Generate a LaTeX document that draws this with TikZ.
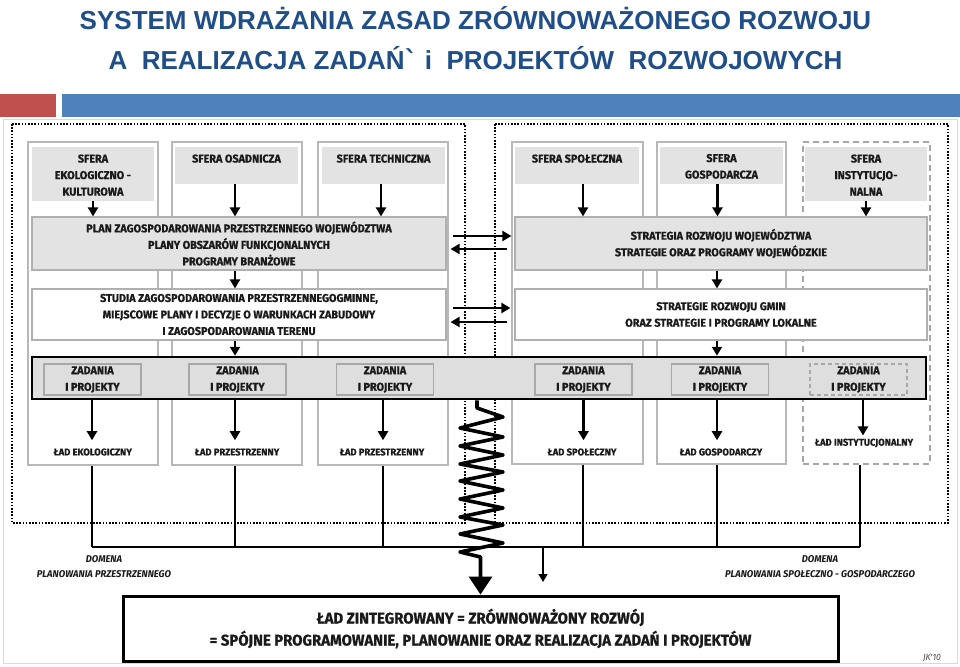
\documentclass[tikz,border=0pt]{standalone}
\usepackage{fontspec}
\usetikzlibrary{arrows.meta,calc}
\setmainfont{Liberation Sans}
\newfontfamily\tfont{Liberation Sans}
\newfontfamily\gravefont{DejaVu Sans}
\newfontfamily\dfont{Fira Sans}[FakeStretch=0.96,BoldFeatures={FakeBold=0.7}]
\definecolor{titleblue}{HTML}{1F4E89}
\definecolor{barred}{HTML}{C0504D}
\definecolor{barblue}{HTML}{4F81BD}
\definecolor{colgray}{HTML}{B8B8B8}
\definecolor{sphgray}{HTML}{E3E3E3}
\definecolor{bordgray}{HTML}{B0B0B0}
\definecolor{zadgray}{HTML}{DEDEDE}
\definecolor{zadborder}{HTML}{A8A8A8}
\definecolor{framegray}{HTML}{DADADA}
\definecolor{inkc}{HTML}{1A1A1A}
\newcommand\dtxt{\dfont\bfseries\fontsize{11.3}{16.5}\selectfont}
\newcommand\ltxt{\dfont\bfseries\fontsize{9.8}{11}\selectfont}
\begin{document}
\begin{tikzpicture}[x=1pt,y=-1pt,
  colbox/.style={draw=colgray,line width=1.3pt,fill=white,inner sep=0pt},
  sphbox/.style={fill=sphgray,draw=none,inner sep=0pt},
  sphtext/.style={anchor=north,inner sep=0pt,align=center,font=\dtxt,text=inkc},
  graybox/.style={fill=sphgray,draw=bordgray,line width=1.2pt,inner sep=0pt,align=center,font=\dtxt,text=inkc},
  whitebox/.style={fill=white,draw=bordgray,line width=1.2pt,inner sep=0pt,align=center,font=\dtxt,text=inkc},
  zadbox/.style={fill=zadgray,draw=zadborder,line width=1.2pt,inner sep=0pt,align=center,font=\dtxt,text=inkc,minimum width=97pt,minimum height=31pt},
  ladtext/.style={inner sep=0pt,font=\ltxt,text=inkc},
  domtext/.style={inner sep=0pt,align=center,font={\dfont\bfseries\itshape\fontsize{9.8}{15}\selectfont},text=inkc},
  arr/.style={draw=black,line width=2.2pt,-{Triangle[length=9pt,width=10pt]}},
  ln/.style={draw=black,line width=1.9pt},
  mydots/.style={draw=black,line width=1.9pt,dash pattern=on 1.6pt off 1.6pt},
  title/.style={inner sep=0pt,anchor=base,font={\tfont\bfseries\fontsize{26}{30}\selectfont},text=titleblue}
]
\useasboundingbox (0,0) rectangle (960,666);
\fill[white] (0,0) rectangle (960,666);
% title
\node[title] (t1) at (475.5,30) {SYSTEM WDRAŻANIA ZASAD ZRÓWNOWAŻONEGO ROZWOJU};
\node[title] (t2) at (475.5,70) {A\ \ REALIZACJA ZADAŃ{\gravefont\bfseries ˋ} i\ \ PROJEKTÓW\ \ ROZWOJOWYCH};
\fill[barred] (0,94) rectangle (56,117);
\fill[barblue] (62,94) rectangle (960,117);
% frame
\draw[framegray,line width=0.8pt] (3,119) rectangle (957,663);
% dotted domains
\draw[mydots] (12,124) rectangle (465,523);
\draw[mydots] (495,124) rectangle (948,523);
% columns
\node[colbox,minimum width=130pt,minimum height=323pt] (c1) at (93,303.5) {};
\node[colbox,minimum width=130pt,minimum height=323pt] (c2) at (237,303.5) {};
\node[colbox,minimum width=130pt,minimum height=323pt] (c3) at (383,303.5) {};
\node[colbox,minimum width=131pt,minimum height=322pt] (c4) at (577.5,303) {};
\node[colbox,minimum width=129pt,minimum height=322pt] (c5) at (721.5,303) {};
\node[colbox,draw=gray!70,dash pattern=on 6pt off 4pt,minimum width=127pt,minimum height=322pt] (c6) at (866.5,303) {};
% spheres
\node[sphbox,minimum width=122pt,minimum height=54pt] (s1) at (93,174) {};
\node[sphbox,minimum width=123pt,minimum height=37pt] (s2) at (236.5,165.5) {};
\node[sphbox,minimum width=123pt,minimum height=37pt] (s3) at (383.5,165.5) {};
\node[sphbox,minimum width=124pt,minimum height=37pt] (s4) at (577,165.5) {};
\node[sphbox,minimum width=123pt,minimum height=37pt] (s5) at (721.5,165.5) {};
\node[sphbox,minimum width=122pt,minimum height=54pt] (s6) at (866,174) {};
\node[sphtext] (st1) at ([yshift=-7.5pt]s1.north) {SFERA\\EKOLOGICZNO -\\KULTUROWA};
\node[sphtext] (st2) at ([yshift=-7.5pt]s2.north) {SFERA OSADNICZA};
\node[sphtext] (st3) at ([yshift=-7.5pt]s3.north) {SFERA TECHNICZNA};
\node[sphtext] (st4) at ([yshift=-7.5pt]s4.north) {SFERA SPOŁECZNA};
\node[sphtext] (st5) at ([yshift=-7pt]s5.north) {SFERA\\GOSPODARCZA};
\node[sphtext] (st6) at ([yshift=-7.5pt]s6.north) {SFERA\\INSTYTUCJO-\\NALNA};
% plan level
\node[graybox,minimum width=414pt,minimum height=53pt] (plan) at (239,243.5) {PLAN ZAGOSPODAROWANIA PRZESTRZENNEGO WOJEWÓDZTWA\\PLANY OBSZARÓW FUNKCJONALNYCH\\PROGRAMY BRANŻOWE};
\node[graybox,minimum width=412pt,minimum height=53pt] (strat) at (721,243.5) {STRATEGIA ROZWOJU WOJEWÓDZTWA\\STRATEGIE ORAZ PROGRAMY WOJEWÓDZKIE};
\node[whitebox,minimum width=414pt,minimum height=51pt] (stud) at (239,314.5) {STUDIA ZAGOSPODAROWANIA PRZESTRZENNEGOGMINNE,\\MIEJSCOWE PLANY I DECYZJE O WARUNKACH ZABUDOWY\\I ZAGOSPODAROWANIA TERENU};
\node[whitebox,minimum width=412pt,minimum height=51pt] (gmin) at (721,314.5) {STRATEGIE ROZWOJU GMIN\\ORAZ STRATEGIE I PROGRAMY LOKALNE};
% band
\node[fill=zadgray,draw=black,line width=2.5pt,minimum width=894pt,minimum height=42pt,inner sep=0pt] (band) at (479,378) {};
\node[zadbox] (z1) at (92.5,379.5) {ZADANIA\\I PROJEKTY};
\node[zadbox] (z2) at (237.5,379.5) {ZADANIA\\I PROJEKTY};
\node[zadbox] (z3) at (385,379.5) {ZADANIA\\I PROJEKTY};
\node[zadbox] (z4) at (583.5,379.5) {ZADANIA\\I PROJEKTY};
\node[zadbox] (z5) at (720,379.5) {ZADANIA\\I PROJEKTY};
\node[zadbox,dash pattern=on 4pt off 3pt] (z6) at (858.5,379.5) {ZADANIA\\I PROJEKTY};
% arrows sphere -> plan
\draw[arr] (s1.south) -- (s1.south |- plan.north);
\draw[arr] ([xshift=-1.5pt]s2.south) -- ([xshift=-1.5pt]s2.south |- plan.north);
\draw[arr] ([xshift=-2.5pt]s3.south) -- ([xshift=-2.5pt]s3.south |- plan.north);
\draw[arr] ([xshift=6pt]s4.south) -- ([xshift=6pt]s4.south |- strat.north);
\draw[arr] ([xshift=-4pt]s5.south) -- ([xshift=-4pt]s5.south |- strat.north);
\draw[arr] (s6.south) -- (s6.south |- strat.north);
% plan -> studia, strat -> gmin
\draw[arr] ([xshift=-4pt]plan.south) -- ([xshift=-4pt]stud.north);
\draw[arr] ([xshift=-4pt]strat.south) -- ([xshift=-4pt]gmin.north);
\draw[arr] ([xshift=-4pt]stud.south) -- ([xshift=-4pt]stud.south |- band.north);
\draw[arr] ([xshift=-4pt]gmin.south) -- ([xshift=-4pt]gmin.south |- band.north);
% exchange arrows
\draw[arr] ([shift={(6,-7.5)}]plan.east) -- ([shift={(-3,-7.5)}]strat.west);
\draw[arr] ([shift={(-7,5.5)}]strat.west) -- ([shift={(4,5.5)}]plan.east);
\draw[arr] ([shift={(6,-6.5)}]stud.east) -- ([shift={(-4,-6.5)}]gmin.west);
\draw[arr] ([shift={(-7,7.5)}]gmin.west) -- ([shift={(4,7.5)}]stud.east);
% lad labels
\node[ladtext] (l1) at (92.7,452) {ŁAD EKOLOGICZNY};
\node[ladtext] (l2) at (237,452) {ŁAD PRZESTRZENNY};
\node[ladtext] (l3) at (382,452) {ŁAD PRZESTRZENNY};
\node[ladtext] (l4) at (582,452) {ŁAD SPOŁECZNY};
\node[ladtext] (l5) at (721,452) {ŁAD GOSPODARCZY};
\node[ladtext] (l6) at (864,443) {ŁAD INSTYTUCJONALNY};
\draw[arr] ([xshift=-0.5pt]z1.south |- band.south) -- ([shift={(-0.5,-8)}]z1.south |- l1.north);
\draw[arr] ([xshift=-2.5pt]z2.south |- band.south) -- ([shift={(-2.5,-8)}]z2.south |- l2.north);
\draw[arr] ([xshift=-2pt]z3.south |- band.south) -- ([shift={(-2,-8)}]z3.south |- l3.north);
\draw[arr] (z4.south |- band.south) -- ([shift={(0,-8)}]z4.south |- l4.north);
\draw[arr] ([xshift=-3pt]z5.south |- band.south) -- ([shift={(-3,-8)}]z5.south |- l5.north);
\draw[arr] ([xshift=4.5pt]z6.south |- band.south) -- ([shift={(4.5,-3)}]z6.south |- l6.north);
% lower lines
\coordinate (b1) at (92,547);
\coordinate (b2) at (235,547);
\coordinate (b3) at (383,547);
\coordinate (b4) at (583,547);
\coordinate (b5) at (717,547);
\coordinate (b6) at (860,547);
\draw[ln] (b1 |- c1.south) -- (b1);
\draw[ln] (b2 |- c2.south) -- (b2);
\draw[ln] (b3 |- c3.south) -- (b3);
\draw[ln] (b4 |- c4.south) -- (b4);
\draw[ln] (b5 |- c5.south) -- (b5);
\draw[ln] (b6 |- c6.south) -- (b6);
\draw[ln] (b1) -- (b6);
% bottom box
\node[draw=black,line width=3pt,minimum width=715pt,minimum height=65pt,inner sep=0pt,align=center,font={\dfont\bfseries\fontsize{15.5}{22}\selectfont},text=inkc] (bot) at (480.5,628.5) {ŁAD ZINTEGROWANY = ZRÓWNOWAŻONY ROZWÓJ\\= SPÓJNE PROGRAMOWANIE, PLANOWANIE ORAZ REALIZACJA ZADAŃ I PROJEKTÓW};
\coordinate (ba) at (543,547);
\coordinate (bae) at (543,582);
\draw[draw=black,line width=1.6pt,-{Triangle[length=8pt,width=9pt]}] (ba) -- (bae);
% spring
\draw[black,line width=3.6pt,line join=round,-{Triangle[length=18pt,width=23pt]}]
 ([xshift=-2pt]band.south) -- (477,408) -- (503,417) -- (460,428) -- (503,437) -- (460,446)
 -- (503,455) -- (460,464) -- (503,472) -- (460,481) -- (503,490) -- (460,499)
 -- (503,508) -- (460,517) -- (503,525) -- (460,534) -- (503,543) -- (460,552)
 -- (480.5,557) -- (bot.north);
% domain labels
\node[domtext] (d1) at (104,566.5) {DOMENA\\PLANOWANIA PRZESTRZENNEGO};
\node[domtext] (d2) at (820,566.5) {DOMENA\\PLANOWANIA SPOŁECZNO - GOSPODARCZEGO};
\node[inner sep=0pt,font={\dfont\itshape\fontsize{9}{10}\selectfont},text=black!70] (jk) at (932,658) {JK'10};
\end{tikzpicture}
\end{document}
